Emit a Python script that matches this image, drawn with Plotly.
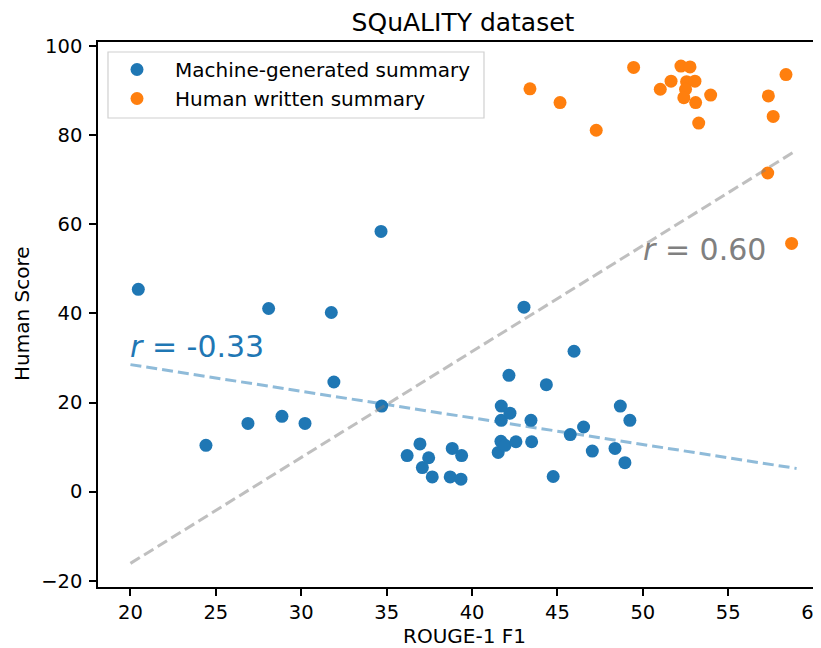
import plotly.graph_objects as go

# ---------------- data ----------------
machine_x = [20.46, 24.42, 26.88, 28.09, 28.87, 30.22, 31.76, 31.91, 34.67, 34.71,
             36.20, 36.95, 37.09, 37.46, 37.67, 38.72, 38.84, 39.35, 39.39,
             41.53, 41.69, 41.71, 41.71, 41.93, 42.16, 42.22, 42.57,
             43.04, 43.45, 43.49, 44.35, 44.75, 45.75, 45.97, 46.53,
             47.04, 48.37, 48.68, 48.95, 49.24]
machine_y = [45.4, 10.4, 15.3, 41.1, 16.9, 15.3, 40.2, 24.6, 58.4, 19.2,
             8.1, 10.7, 5.4, 7.6, 3.3, 3.3, 9.7, 2.8, 8.1,
             8.8, 11.3, 19.2, 16.0, 10.4, 26.1, 17.6, 11.2,
             41.4, 16.0, 11.2, 24.0, 3.4, 12.8, 31.5, 14.5,
             9.1, 9.7, 19.2, 6.5, 16.0]

human_x = [43.39, 45.15, 47.27, 49.46, 51.02, 51.65, 52.23, 52.76, 52.56, 53.05,
           52.50, 52.40, 53.09, 53.97, 53.27, 57.35, 58.38, 57.63, 57.31, 58.71]
human_y = [90.4, 87.3, 81.1, 95.2, 90.3, 92.1, 95.5, 95.3, 92.0, 92.1,
           90.3, 88.4, 87.3, 89.0, 82.7, 88.8, 93.6, 84.2, 71.5, 55.7]

fit_x = [20, 59]
machine_fit_y = [28.5, 5.2]     # regression on machine-generated summaries
all_fit_y = [-16.1, 76.6]       # regression on all summaries

machine_r_label = "<i>r</i> = -0.33"
all_r_label = "<i>r</i> = 0.60"
machine_r_pos = (20.0, 30.0)
all_r_pos = (50.0, 52.0)

x_ticks = [20, 25, 30, 35, 40, 45, 50, 55, 60]
y_ticks = [-20, 0, 20, 40, 60, 80, 100]

BLUE = "#1f77b4"
ORANGE = "#ff7f0e"
FONT = "DejaVu Sans"

# ---------------- figure ----------------
# the page body has an 8px margin, so the figure is laid out in page pixels minus 8
OFF = 8
W, H = 821 - OFF, 648 - OFF
L, R, T, B = 98 - OFF, 0, 42 - OFF, 648 - 587
pw, ph = W - L - R, H - T - B

fig = go.Figure()
fig.add_trace(go.Scatter(x=machine_x, y=machine_y, mode="markers",
                         name="Machine-generated summary",
                         marker=dict(color=BLUE, size=13, line=dict(width=0))))
fig.add_trace(go.Scatter(x=human_x, y=human_y, mode="markers",
                         name="Human written summary",
                         marker=dict(color=ORANGE, size=13, line=dict(width=0))))
fig.add_trace(go.Scatter(x=fit_x, y=machine_fit_y, mode="lines", showlegend=False,
                         line=dict(color="rgba(31,119,180,0.5)", width=3, dash="11px,5px")))
fig.add_trace(go.Scatter(x=fit_x, y=all_fit_y, mode="lines", showlegend=False,
                         line=dict(color="rgba(128,128,128,0.5)", width=3, dash="11px,5px")))

def px2paper_x(px):
    return (px - OFF - L) / pw

def px2paper_y(py):
    return (H - B - (py - OFF)) / ph

fig.add_annotation(x=machine_r_pos[0], y=machine_r_pos[1], xref="x", yref="y",
                   text=machine_r_label, showarrow=False, xanchor="left", yanchor="bottom",
                   yshift=-8, xshift=-2, font=dict(family=FONT, size=30, color=BLUE))
fig.add_annotation(x=all_r_pos[0], y=all_r_pos[1], xref="x", yref="y",
                   text=all_r_label, showarrow=False, xanchor="left", yanchor="bottom",
                   yshift=-9, xshift=-2, font=dict(family=FONT, size=30, color="#808080"))

# axis titles
fig.add_annotation(x=px2paper_x(464.5), y=px2paper_y(636), xref="paper", yref="paper",
                   text="ROUGE-1 F1", showarrow=False, xanchor="center", yanchor="middle",
                   font=dict(family=FONT, size=20, color="black"))
fig.add_annotation(x=px2paper_x(22), y=px2paper_y(314), xref="paper", yref="paper",
                   text="Human Score", showarrow=False, textangle=-90,
                   xanchor="center", yanchor="middle",
                   font=dict(family=FONT, size=20, color="black"))

# legend frame
fig.add_shape(type="rect", xref="paper", yref="paper",
              x0=px2paper_x(108), x1=px2paper_x(484),
              y0=px2paper_y(118), y1=px2paper_y(52),
              line=dict(color="#d0d0d0", width=1.2), fillcolor="rgba(255,255,255,0.8)",
              layer="below")

axis_common = dict(showgrid=False, zeroline=False, showline=True, linecolor="black",
                   linewidth=1.6, ticks="outside", ticklen=7, tickwidth=1.6,
                   tickcolor="black", tickfont=dict(family=FONT, size=19.5, color="black"))

fig.update_layout(
    width=W, height=H,
    margin=dict(l=L, r=R, t=T, b=B, autoexpand=False),
    plot_bgcolor="white", paper_bgcolor="white",
    font=dict(family=FONT, color="black"),
    title=dict(text="SQuALITY dataset", x=(463 - OFF) / W, xref="container", xanchor="center",
               y=1 - (22 - OFF) / H, yref="container", yanchor="middle",
               font=dict(family=FONT, size=25, color="black")),
    xaxis=dict(range=[18.1, 60.43], tickvals=x_ticks, mirror=True,
               ticklabeloverflow="allow", **axis_common),
    yaxis=dict(range=[-21.4, 100.9], tickvals=y_ticks, mirror=False,
               ticklabelstandoff=3, **axis_common),
    legend=dict(x=px2paper_x(99), y=px2paper_y(50), xanchor="left", yanchor="top",
                bgcolor="rgba(0,0,0,0)", borderwidth=0, itemwidth=66,
                font=dict(family=FONT, size=20, color="black"), tracegroupgap=0),
)

fig.write_html("out.html")
